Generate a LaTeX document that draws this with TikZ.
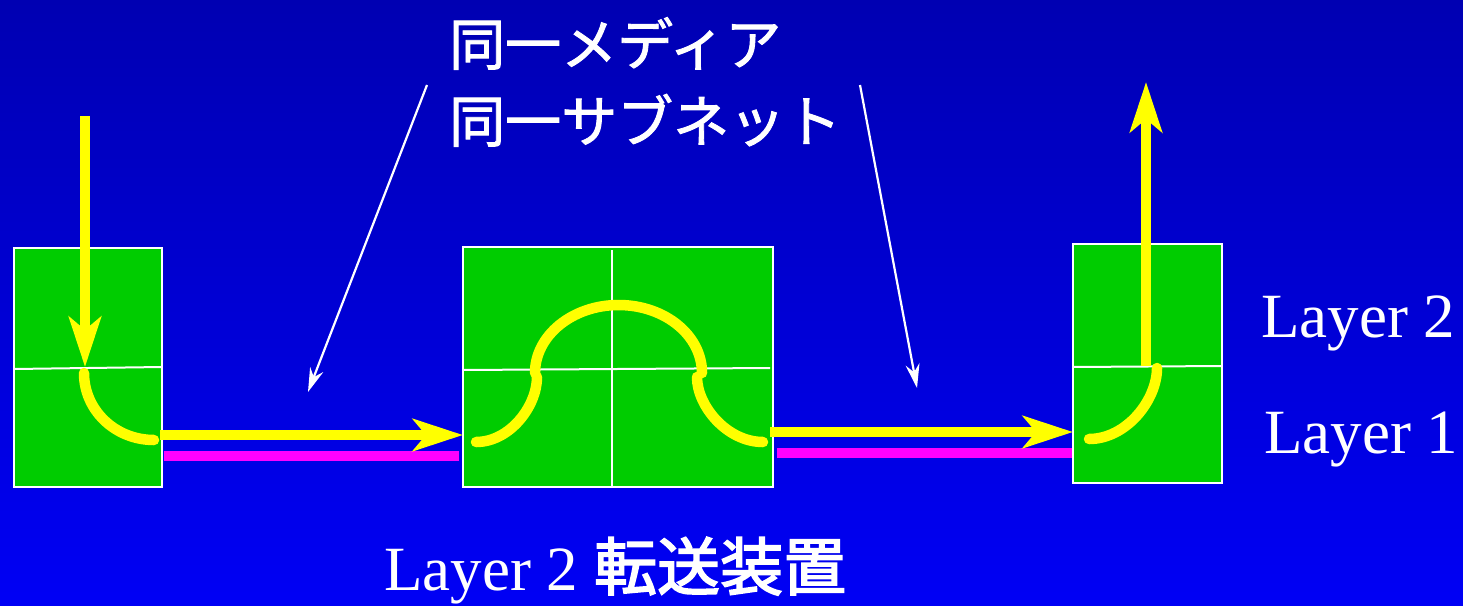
\documentclass[tikz,border=0pt]{standalone}
\usepackage{fontspec}
\setmainfont{Liberation Serif}
\newfontfamily\cjk[FakeBold=1.6]{Noto Sans CJK JP}
\newfontfamily\cjkb[FakeBold=2.6]{Noto Sans CJK JP}
\usetikzlibrary{arrows.meta}
\definecolor{bgtop}{RGB}{0,0,178}
\definecolor{bgbot}{RGB}{0,0,245}
\definecolor{boxgreen}{RGB}{0,204,0}
\definecolor{ylw}{RGB}{255,255,0}
\definecolor{mag}{RGB}{255,0,255}
\tikzset{
  layerbox/.style={fill=boxgreen, draw=white, line width=2.5pt},
  divider/.style={draw=white, line width=2pt},
  flowarrow/.style={draw=ylw, line width=10.5pt, line cap=butt,
    -{Stealth[length=50pt, width=32pt, inset=13pt]}},
  flowcurve/.style={draw=ylw, line width=10.5pt, line cap=round},
  medialine/.style={draw=mag, line width=10pt},
  pointer/.style={draw=white, line width=2.2pt,
    -{Stealth[length=24pt, width=14pt, inset=8pt]}},
  lbl/.style={text=white, font=\fontsize{63}{70}\selectfont, inner sep=0pt, anchor=base west},
  jlbl/.style={text=white, font=\cjk\fontsize{56}{62}\selectfont, inner sep=0pt, anchor=base west}
}
\begin{document}
\begin{tikzpicture}[x=1pt,y=-1pt]
\shade[top color=bgtop, bottom color=bgbot] (0,0) rectangle (1463,605);
\useasboundingbox (0,0) rectangle (1463,605);

% boxes
\draw[layerbox] (14,248) rectangle (162,487);
\draw[divider] (14,369) -- (162,367);
\draw[layerbox] (463,247) rectangle (773,487);
\draw[divider] (463,370) -- (770,368);
\draw[divider] (612,250) -- (612,487);
\draw[layerbox] (1073,244) rectangle (1222,483);
\draw[divider] (1073,367) -- (1222,366);

% named coordinates
\coordinate (inTop) at (85,116);
\coordinate (inTip) at (85,367);
\coordinate (aS) at (84,373);
\coordinate (aE) at (154,440);
\coordinate (h1S) at (160,435);
\coordinate (h1E) at (463,435);
\coordinate (m1S) at (164,456);
\coordinate (m1E) at (459,456);
\coordinate (bS) at (476,442);
\coordinate (bE) at (537,377);
\coordinate (cS) at (535,373);
\coordinate (cM) at (618.5,305);
\coordinate (cE) at (702,373);
\coordinate (dS) at (697,377);
\coordinate (dE) at (763,442);
\coordinate (h2S) at (770,432);
\coordinate (h2E) at (1073,432);
\coordinate (m2S) at (777,453);
\coordinate (m2E) at (1072,453);
\coordinate (eS) at (1089,439);
\coordinate (eE) at (1157,368);
\coordinate (upS) at (1146,366);
\coordinate (upE) at (1146,82);
\coordinate (p1S) at (427,85);
\coordinate (p1E) at (308,392);
\coordinate (p2S) at (860,85);
\coordinate (p2E) at (917,388);

% media lines
\draw[medialine] (m1S) -- (m1E);
\draw[medialine] (m2S) -- (m2E);

% yellow flow
\draw[flowarrow] (inTop) -- (inTip);
\draw[flowcurve] (aS) .. controls (84,410) and (115,440) .. (aE);
\draw[flowarrow] (h1S) -- (h1E);
\draw[flowcurve] (bS) .. controls (510,442) and (537,406) .. (bE);
\draw[flowcurve] (cS) .. controls (535,335.5) and (572.5,305) .. (cM)
                      .. controls (665,305) and (702,335.5) .. (cE);
\draw[flowcurve] (dS) .. controls (697,406) and (727,442) .. (dE);
\draw[flowarrow] (h2S) -- (h2E);
\draw[flowcurve] (eS) .. controls (1126.5,439) and (1157,400) .. (eE);
\draw[flowarrow] (upS) -- (upE);

% pointers
\draw[pointer] (p1S) -- (p1E);
\draw[pointer] (p2S) -- (p2E);

% texts
\node[jlbl] (t1) at (449,65) {同一メディア};
\node[jlbl] (t2) at (449,142) {同一サブネット};
\node[lbl] (t3) at (384,590) {Layer 2 {\cjkb 転送装置}};
\node[lbl] (l2) at (1261,337) {Layer 2};
\node[lbl] (l1) at (1264,453) {Layer 1};
\end{tikzpicture}
\end{document}
